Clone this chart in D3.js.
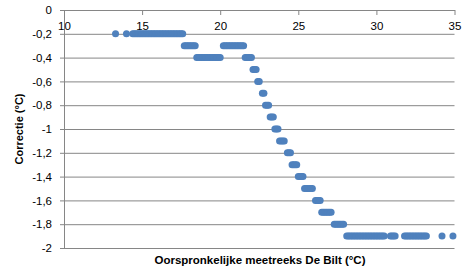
<!DOCTYPE html>
<html>
<head>
<meta charset="utf-8">
<script src="https://cdn.jsdelivr.net/npm/d3@7"></script>
<style>
  body { margin: 0; background: #fff; }
  text { font-family: "Liberation Sans", Arial, sans-serif; }
</style>
</head>
<body>
<svg id="chart" width="472" height="280"></svg>
<script>
// correction levels (°C) and the original temperatures that got that correction
var levels = [-0.2, -0.3, -0.4, -0.5, -0.6, -0.7, -0.8, -0.9, -1.0,
    -1.1, -1.2, -1.3, -1.4, -1.5, -1.6, -1.7, -1.8, -1.9]
var temps = [
    [13.3, 14.0, 14.4, 14.5, 14.6, 14.7, 14.8, 14.9, 15.0, 15.1, 15.2, 15.3, 15.4, 15.5,
        15.6, 15.7, 15.8, 15.9, 16.0, 16.1, 16.2, 16.3, 16.4, 16.5, 16.6, 16.7, 16.8,
        16.9, 17.0, 17.1, 17.2, 17.3, 17.4, 17.5, 17.6],
    [17.7, 17.8, 17.9, 18.0, 18.1, 18.2, 18.3, 18.4,
        20.2, 20.3, 20.4, 20.5, 20.6, 20.7, 20.8, 20.9, 21.0, 21.1, 21.2, 21.3, 21.4, 21.5],
    [18.5, 18.6, 18.7, 18.8, 18.9, 19.0, 19.1, 19.2, 19.3, 19.4, 19.5, 19.6, 19.7, 19.8,
        19.9, 20.0, 21.6, 21.7, 21.8, 21.9, 22.0],
    [22.1, 22.2, 22.3],
    [22.4, 22.5],
    [22.7, 22.8],
    [22.9, 23.0, 23.1],
    [23.2, 23.3, 23.4],
    [23.5, 23.6, 23.7],
    [23.8, 23.9, 24.0, 24.1],
    [24.3, 24.4, 24.5],
    [24.6, 24.7, 24.8, 24.9],
    [25.0, 25.1, 25.2, 25.3],
    [25.4, 25.5, 25.6, 25.7, 25.8, 25.9],
    [26.1, 26.2, 26.3, 26.4],
    [26.5, 26.6, 26.7, 26.8, 26.9, 27.0, 27.1],
    [27.3, 27.4, 27.5, 27.6, 27.7, 27.8, 27.9],
    [28.1, 28.2, 28.3, 28.4, 28.5, 28.6, 28.7, 28.8, 28.9, 29.0, 29.1, 29.2, 29.3, 29.4,
        29.5, 29.6, 29.7, 29.8, 29.9, 30.0, 30.1, 30.2, 30.3, 30.4, 30.5,
        30.9, 31.0, 31.1, 31.2,
        31.8, 31.9, 32.0, 32.1, 32.2, 32.3, 32.4, 32.5, 32.6, 32.7, 32.8, 32.9, 33.0,
        33.1, 33.2, 34.2, 34.9]
]
var xTicks = [10, 15, 20, 25, 30, 35]
var yTicks = [0, -0.2, -0.4, -0.6, -0.8, -1, -1.2, -1.4, -1.6, -1.8, -2]

var points = []
levels.forEach(function (lv, i) {
    temps[i].forEach(function (t) { points.push({ x: t, y: lv }) })
})

var svg = d3.select('#chart')
var gridColor = '#868686'

var x = d3.scaleLinear()
    .domain([10, 35])
    .range([64, 454.5])

var y = d3.scaleLinear()
    .domain([0, -2])
    .range([10, 248])

var fmt = function (d) { return String(d).replace('.', ',') }

// horizontal gridlines
svg.append('g')
    .attr('transform', 'translate(64,0)')
    .call(d3.axisLeft(y).tickValues(yTicks.slice(1)).tickSize(-(454.5 - 64)).tickFormat(''))
    .call(function (g) { g.select('.domain').remove() })
    .selectAll('line').attr('stroke', gridColor)

// y axis
var yAxis = svg.append('g')
    .attr('transform', 'translate(64,0)')
    .call(d3.axisLeft(y).tickValues(yTicks).tickSize(4).tickSizeOuter(0).tickPadding(8).tickFormat(fmt))
yAxis.select('.domain').attr('stroke', gridColor)
yAxis.selectAll('line').attr('stroke', gridColor)
yAxis.selectAll('text').attr('font-size', 11.5).attr('fill', '#000')
    .attr('font-family', '"Liberation Sans", Arial, sans-serif')

// x axis along the top (y = 0), labels inside the plot
var xAxis = svg.append('g')
    .attr('transform', 'translate(0,' + y(0) + ')')
    .call(d3.axisBottom(x).tickValues(xTicks).tickSize(5).tickSizeOuter(0).tickPadding(7))
xAxis.select('.domain').attr('stroke', gridColor)
xAxis.selectAll('line').attr('stroke', gridColor)
xAxis.selectAll('text').attr('font-size', 11.5).attr('fill', '#000')
    .attr('font-family', '"Liberation Sans", Arial, sans-serif')

// data points
svg.append('g')
    .selectAll('circle')
    .data(points)
    .enter()
    .append('circle')
    .attr('cx', function (d) { return x(d.x) })
    .attr('cy', function (d) { return y(d.y) })
    .attr('r', 3.5)
    .attr('fill', '#4F81BD')

// axis titles
svg.append('text')
    .attr('x', 260)
    .attr('y', 264)
    .attr('text-anchor', 'middle')
    .attr('font-size', 11.5)
    .attr('font-weight', 'bold')
    .text('Oorspronkelijke meetreeks De Bilt (°C)')

svg.append('text')
    .attr('transform', 'translate(23,129) rotate(-90)')
    .attr('text-anchor', 'middle')
    .attr('font-size', 11)
    .attr('font-weight', 'bold')
    .text('Correctie (°C)')
</script>
</body>
</html>
